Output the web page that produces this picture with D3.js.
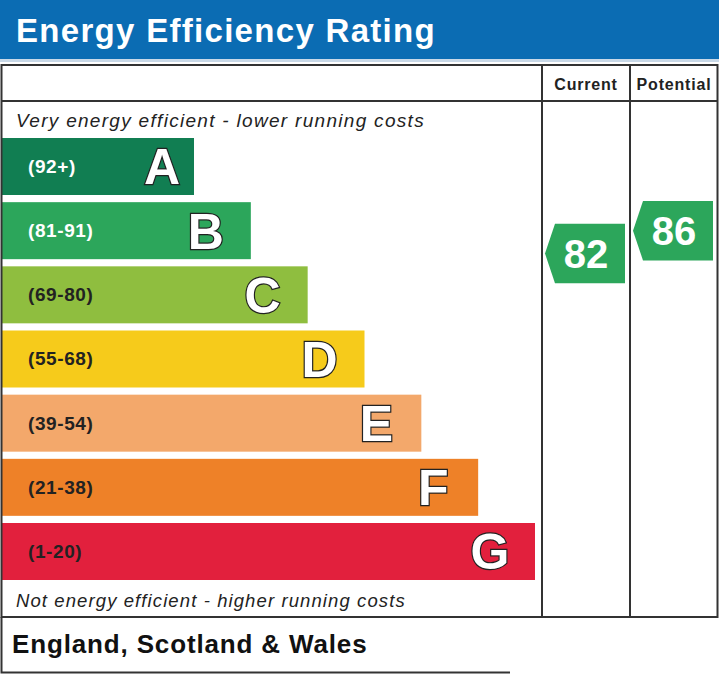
<!DOCTYPE html>
<html>
<head>
<meta charset="utf-8">
<script src="https://cdn.jsdelivr.net/npm/d3@7"></script>
<style>
  html, body { margin: 0; padding: 0; background: #fff; }
  svg { display: block; font-family: "Liberation Sans", Arial, sans-serif; }
</style>
</head>
<body>
<svg id="chart" width="719" height="675"></svg>
<script>
// Bands of the rating, top (best) to bottom
var letters = ["A", "B", "C", "D", "E", "F", "G"];
var ranges = ["(92+)", "(81-91)", "(69-80)", "(55-68)", "(39-54)", "(21-38)", "(1-20)"];
var bandMin = [92, 81, 69, 55, 39, 21, 1];
var bandMax = [100, 91, 80, 68, 54, 38, 20];
var colors = ["#117e52", "#2ca65b", "#8fbe3f", "#f6cb1b", "#f3a86b", "#ee8128", "#e2203d"];
var labelColors = ["#fff", "#fff", "#222", "#222", "#222", "#222", "#222"];

// Ratings shown in the arrows
var columns = ["Current", "Potential"];
var ratings = [82, 86];

const svg = d3.select('#chart');

var width = 719;
var boxTop = 65, headRow = 101, boxBottom = 617;
var colX = [542, 630, 718];

// header band
svg.append('rect').attr('x', 0).attr('y', 0).attr('width', width).attr('height', 59).style('fill', '#0b6cb3');
svg.append('rect').attr('x', 0).attr('y', 59).attr('width', width).attr('height', 3).style('fill', '#c9d9e8');
svg.append('text').attr('x', 16).attr('y', 41.5)
  .style('fill', '#fff').style('font-weight', 'bold').style('font-size', '33px')
  .style('letter-spacing', '1.3px')
  .text('Energy Efficiency Rating');

// bar scales
const yScale = d3.scaleBand().domain(letters).range([138, 580]).paddingInner(0.1117).paddingOuter(0);
const xScale = d3.scaleLinear().domain([0, letters.length - 1]).range([194, 535]);

const bars = svg.selectAll('.band')
  .data(letters)
  .enter()
  .append('g')
  .classed('band', true)
  .attr('transform', d => 'translate(0,' + yScale(d) + ')');

bars.append('rect')
  .attr('x', 2)
  .attr('width', (d, i) => xScale(i) - 2)
  .attr('height', yScale.bandwidth())
  .style('fill', (d, i) => colors[i]);

bars.append('text')
  .attr('x', 28)
  .attr('y', yScale.bandwidth() / 2 + 6.5)
  .style('font-size', '19px').style('font-weight', 'bold')
  .style('letter-spacing', '0.6px')
  .style('fill', (d, i) => labelColors[i])
  .text((d, i) => ranges[i]);

bars.append('text')
  .attr('x', (d, i) => xScale(i) - (i === 0 ? 32 : 45))
  .attr('y', yScale.bandwidth() / 2 + 18)
  .attr('text-anchor', 'middle')
  .style('font-size', '50px').style('font-weight', 'bold')
  .style('fill', '#fff').style('stroke', '#222').style('stroke-width', '2.4px')
  .style('paint-order', 'stroke')
  .text(d => d);

// italic captions
svg.append('text').attr('x', 16).attr('y', 126.5)
  .style('font-size', '19px').style('font-style', 'italic').style('fill', '#222')
  .style('letter-spacing', '1.3px')
  .text('Very energy efficient - lower running costs');
svg.append('text').attr('x', 16).attr('y', 606.5)
  .style('font-size', '18.5px').style('font-style', 'italic').style('fill', '#222')
  .style('letter-spacing', '1.1px')
  .text('Not energy efficient - higher running costs');

// frame
var line = '#333';
svg.append('rect').attr('x', 1.5).attr('y', boxTop).attr('width', width - 3).attr('height', boxBottom - boxTop)
  .style('fill', 'none').style('stroke', line).style('stroke-width', 2);
svg.append('line').attr('x1', 1).attr('x2', width - 1).attr('y1', headRow).attr('y2', headRow)
  .style('stroke', line).style('stroke-width', 2);
colX.slice(0, 2).forEach(function(x) {
  svg.append('line').attr('x1', x).attr('x2', x).attr('y1', boxTop).attr('y2', boxBottom)
    .style('stroke', line).style('stroke-width', 2);
});
svg.selectAll('.colhead')
  .data(columns)
  .enter()
  .append('text')
  .attr('x', (d, i) => (colX[i] + colX[i + 1]) / 2)
  .attr('y', 89.5)
  .attr('text-anchor', 'middle')
  .style('font-size', '16px').style('font-weight', 'bold').style('fill', '#222')
  .style('letter-spacing', '0.8px')
  .text(d => d);

// rating -> y inside its band
function ratingY(v) {
  var i = bandMin.findIndex(m => v >= m);
  var s = d3.scaleLinear().domain([bandMin[i], bandMax[i]])
    .range([yScale(letters[i]) + yScale.bandwidth(), yScale(letters[i])]);
  return s(v);
}
function bandColor(v) {
  return colors[bandMin.findIndex(m => v >= m)];
}

var arrowH = 59.5;
const arrows = svg.selectAll('.arrow')
  .data(ratings)
  .enter()
  .append('g')
  .classed('arrow', true)
  .attr('transform', (d, i) => 'translate(' + (colX[i] + 3) + ',' + ratingY(d) + ')');

arrows.append('path')
  .attr('d', 'M0,0 L10,' + (-arrowH / 2) + ' L80,' + (-arrowH / 2) + ' L80,' + (arrowH / 2) + ' L10,' + (arrowH / 2) + ' Z')
  .style('fill', d => bandColor(d));
arrows.append('text')
  .attr('x', 41)
  .attr('y', 14.5)
  .attr('text-anchor', 'middle')
  .style('font-size', '40px').style('font-weight', 'bold').style('fill', '#fff')
  .text(d => d);

// footer box
svg.append('path').attr('d', 'M1.5,617 L1.5,672.5 L510,672.5')
  .style('fill', 'none').style('stroke', line).style('stroke-width', 2);
svg.append('text').attr('x', 12).attr('y', 653)
  .style('font-size', '26px').style('font-weight', 'bold').style('fill', '#111')
  .style('letter-spacing', '0.85px')
  .text('England, Scotland & Wales');
</script>
</body>
</html>
